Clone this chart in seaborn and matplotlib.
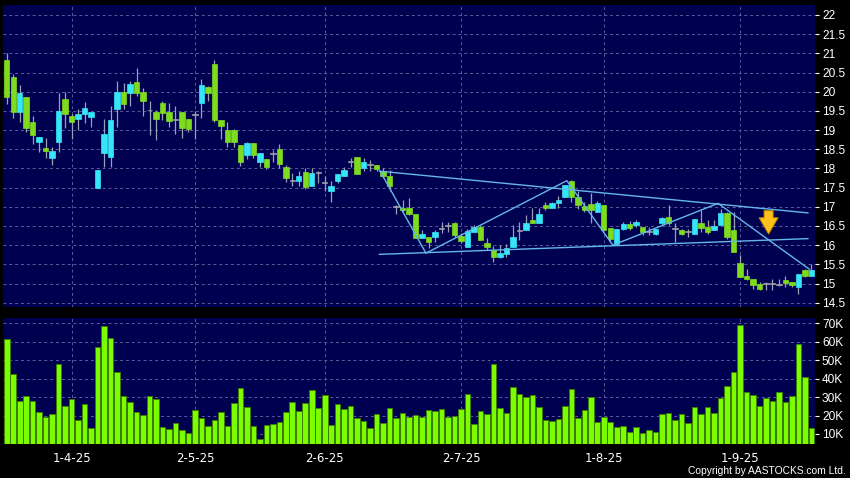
import numpy as np
import pandas as pd
import matplotlib.pyplot as plt
import seaborn as sns

# daily candles (HKD)
opens = [20.82, 20.39, 19.47, 19.87, 19.20, 18.68, 18.53, 18.26, 18.68, 19.82,
         19.36, 19.29, 19.43, 19.34, 17.50, 18.39, 18.29, 19.55, 20.00, 19.97,
         20.26, 20.00, 19.51, 19.47, 19.71, 19.47, 19.26, 19.47, 19.29, 19.40,
         19.71, 20.11, 20.72, 19.27, 19.01, 19.01, 18.61, 18.34, 18.66, 18.16,
         18.24, 18.38, 18.51, 18.04, 17.68, 17.66, 17.90, 17.53, 17.89, 17.63,
         17.42, 17.66, 17.79, 18.17, 18.29, 18.00, 18.09, 18.09, 17.93, 17.79,
         16.99, 16.98, 16.96, 16.81, 16.18, 16.20, 16.22, 16.41, 16.50, 16.57,
         16.25, 15.96, 16.33, 16.48, 16.05, 15.87, 15.70, 15.76, 15.94, 16.38,
         16.40, 16.66, 16.59, 17.05, 16.96, 17.09, 17.26, 17.68, 17.26, 17.02,
         17.06, 16.87, 17.04, 16.46, 16.04, 16.43, 16.54, 16.52, 16.48, 16.35,
         16.30, 16.57, 16.74, 16.43, 16.39, 16.35, 16.30, 16.57, 16.48, 16.39,
         16.52, 16.83, 16.39, 15.54, 15.19, 15.13, 15.00, 14.98, 15.00, 14.97,
         15.10, 15.04, 14.90, 15.35, 15.19]
highs = [21.00, 20.45, 20.17, 19.87, 19.37, 18.83, 18.79, 18.55, 19.96, 19.99,
         19.43, 19.54, 19.73, 19.48, 17.96, 19.29, 19.64, 20.27, 20.22, 20.27,
         20.61, 20.10, 19.75, 19.53, 19.77, 19.71, 19.64, 19.47, 19.29, 19.50,
         20.32, 20.15, 20.82, 19.27, 19.22, 19.03, 18.61, 18.70, 18.66, 18.39,
         18.24, 18.48, 18.63, 18.09, 17.87, 17.92, 18.00, 18.00, 17.94, 17.79,
         17.66, 17.85, 18.05, 18.27, 18.30, 18.27, 18.22, 18.09, 18.00, 17.96,
         17.05, 17.18, 17.22, 16.81, 16.40, 16.20, 16.40, 16.61, 16.61, 16.61,
         16.31, 16.41, 16.53, 16.53, 16.18, 15.98, 16.00, 16.03, 16.53, 16.61,
         16.79, 16.96, 16.96, 17.13, 17.13, 17.27, 17.57, 17.70, 17.42, 17.13,
         17.35, 17.16, 17.04, 16.46, 16.43, 16.61, 16.63, 16.65, 16.48, 16.48,
         16.43, 16.74, 17.04, 16.57, 16.43, 16.43, 16.67, 16.91, 16.65, 16.65,
         16.94, 16.87, 16.87, 15.74, 15.39, 15.13, 15.04, 15.04, 15.13, 15.13,
         15.19, 15.04, 15.26, 15.39, 15.50]
lows = [19.67, 19.31, 19.20, 18.94, 18.64, 18.44, 18.26, 18.09, 18.44, 19.05,
        18.77, 18.99, 19.18, 19.08, 17.50, 18.04, 18.04, 19.08, 19.54, 19.62,
        19.89, 19.36, 18.88, 18.73, 19.25, 19.08, 18.91, 18.80, 18.94, 18.77,
        19.31, 19.75, 19.20, 18.78, 18.57, 18.57, 18.06, 18.24, 18.26, 18.04,
        17.99, 18.18, 18.00, 17.65, 17.53, 17.53, 17.46, 17.53, 17.63, 17.42,
        17.13, 17.63, 17.79, 18.05, 17.85, 17.94, 17.92, 17.94, 17.76, 17.40,
        16.81, 16.87, 16.79, 16.18, 16.18, 15.92, 16.09, 16.31, 16.35, 16.22,
        16.05, 15.96, 16.33, 16.13, 15.87, 15.57, 15.66, 15.70, 15.94, 16.13,
        16.40, 16.57, 16.59, 16.92, 16.96, 16.96, 17.26, 17.13, 16.93, 16.87,
        16.57, 16.87, 16.39, 16.11, 16.03, 16.39, 16.39, 16.48, 16.26, 16.26,
        16.26, 16.52, 16.52, 16.09, 16.26, 16.22, 16.30, 16.35, 16.30, 16.39,
        16.52, 16.17, 15.83, 15.17, 15.10, 14.87, 14.84, 14.83, 14.84, 14.93,
        14.91, 14.91, 14.72, 15.17, 15.19]
closes = [19.87, 19.47, 19.97, 19.05, 18.88, 18.83, 18.45, 18.45, 19.50, 19.43,
          19.21, 19.42, 19.58, 19.48, 17.96, 18.89, 19.25, 20.00, 19.68, 20.21,
          19.97, 19.75, 19.51, 19.29, 19.45, 19.24, 19.26, 19.06, 19.03, 19.40,
          20.17, 19.97, 19.27, 19.10, 18.68, 18.68, 18.18, 18.66, 18.34, 18.39,
          18.04, 18.38, 18.11, 17.74, 17.68, 17.80, 17.51, 17.87, 17.89, 17.63,
          17.53, 17.85, 17.96, 18.17, 17.85, 18.16, 18.09, 17.98, 17.80, 17.53,
          16.99, 16.92, 16.81, 16.18, 16.29, 16.07, 16.33, 16.41, 16.50, 16.27,
          16.11, 16.38, 16.48, 16.13, 15.96, 15.70, 15.79, 15.92, 16.22, 16.38,
          16.57, 16.57, 16.80, 16.96, 17.09, 17.18, 17.57, 17.26, 17.04, 16.91,
          16.91, 17.11, 16.39, 16.15, 16.43, 16.54, 16.46, 16.61, 16.33, 16.35,
          16.43, 16.70, 16.59, 16.43, 16.29, 16.35, 16.67, 16.46, 16.33, 16.50,
          16.85, 16.20, 15.83, 15.17, 15.13, 14.96, 14.87, 14.98, 15.00, 14.97,
          15.02, 14.96, 15.26, 15.19, 15.35]
# volume in thousands of shares
volumes_k = [61.5, 42.3, 27.7, 30.4, 27.9, 22.1, 19.4, 20.6, 47.9, 25.2,
             29.1, 17.7, 26.2, 13.4, 57.0, 68.6, 61.9, 43.6, 30.8, 27.3,
             21.7, 20.5, 30.8, 29.1, 13.6, 12.5, 15.9, 12.1, 10.3, 23.2,
             18.5, 14.3, 17.7, 21.9, 14.5, 26.6, 34.7, 24.4, 14.3, 7.5,
             14.8, 15.4, 16.7, 21.8, 27.3, 22.4, 26.6, 33.8, 24.2, 30.9,
             15.0, 26.2, 23.5, 25.0, 18.8, 17.2, 13.2, 20.8, 16.1, 24.2,
             18.8, 21.4, 19.2, 20.5, 19.2, 23.0, 22.4, 23.7, 19.0, 19.5,
             23.7, 31.8, 15.6, 22.4, 21.0, 47.8, 24.1, 21.2, 35.5, 31.7,
             30.2, 30.9, 24.8, 17.4, 17.0, 17.9, 25.2, 34.6, 18.8, 23.0,
             30.2, 16.3, 19.2, 16.3, 13.9, 14.3, 11.2, 13.6, 10.3, 12.3,
             11.2, 20.6, 21.2, 17.7, 20.8, 16.1, 24.4, 21.0, 24.6, 21.5,
             29.5, 36.2, 43.4, 69.1, 32.7, 31.3, 25.2, 29.3, 28.0, 32.6,
             27.5, 30.6, 58.8, 41.1, 13.2]

month_ticks = [10, 29, 49, 70, 92, 113]
month_labels = ['1-4-25', '2-5-25', '2-6-25', '2-7-25', '1-8-25', '1-9-25']
price_ticks = [14.5, 15, 15.5, 16, 16.5, 17, 17.5, 18, 18.5, 19, 19.5, 20, 20.5, 21, 21.5, 22]
vol_ticks = [10, 20, 30, 40, 50, 60, 70]

# hand-drawn trend lines (bar index, price)
channel_top_x, channel_top_y = [57.4, 123.5], [17.93, 16.84]
channel_bot_x, channel_bot_y = [57.4, 123.5], [15.76, 16.17]
zigzag_x = [57.5, 64.6, 86.3, 93.4, 109.6, 123.7]
zigzag_y = [17.94, 15.79, 17.68, 16.00, 17.09, 15.37]
arrow_x, arrow_from, arrow_to = 117.4, 16.90, 16.29

NAVY = '#000050'
GRID = '#5c5c98'
UP = '#36e6f6'
DOWN = '#7edc1e'
FLAT = '#a0a0a8'
WICK = '#9aa0b4'
LINE = '#64b8e8'

sns.set_style('dark', {'axes.facecolor': NAVY, 'figure.facecolor': 'black'})
plt.rcParams['font.family'] = ['Liberation Sans', 'DejaVu Sans']

df = pd.DataFrame({'open': opens, 'high': highs, 'low': lows,
                   'close': closes, 'volume': volumes_k})
df['bar'] = np.arange(len(df))
df['color'] = np.where(df['close'] > df['open'], UP,
                       np.where(df['close'] < df['open'], DOWN, FLAT))

fig = plt.figure(figsize=(8.5, 4.78), dpi=100)
W, H = 850, 478
ax_p = fig.add_axes([3.3 / W, 1 - 307.3 / H, 811.7 / W, 302.3 / H])
ax_v = fig.add_axes([3.3 / W, 1 - 444 / H, 811.7 / W, 126.5 / H])

# price panel
ax_p.vlines(df['bar'], df['low'], df['high'], color=WICK, lw=0.9, zorder=2)
body_lo = np.minimum(df['open'], df['close'])
body_h = np.maximum((df['close'] - df['open']).abs(), 0.025)
ax_p.bar(df['bar'], body_h, bottom=body_lo, width=0.84, color=df['color'],
         edgecolor=df['color'], linewidth=0.5, zorder=3)

ax_p.plot(channel_top_x, channel_top_y, color=LINE, lw=1.0, zorder=4)
ax_p.plot(channel_bot_x, channel_bot_y, color=LINE, lw=1.0, zorder=4)
ax_p.plot(zigzag_x, zigzag_y, color=LINE, lw=1.0, zorder=4)
ax_p.annotate('', xy=(arrow_x, arrow_to), xytext=(arrow_x, arrow_from),
              arrowprops=dict(arrowstyle='simple,head_length=0.9,head_width=1.05,tail_width=0.5',
                              mutation_scale=13, shrinkA=0, shrinkB=0,
                              fc='#ffc21a', ec='#c88400', lw=0.7), zorder=5)

ax_p.set_xlim(-0.53, 124.55)
ax_p.set_ylim(14.38, 22.26)
ax_p.set_yticks(price_ticks, [f'{t:g}' for t in price_ticks])
ax_p.set_xticks(month_ticks, [''] * len(month_ticks))

# volume panel
sns.barplot(data=df, x='bar', y='volume', color='#7cfc00', saturation=1,
            width=0.86, edgecolor='#3a7d00', linewidth=0.7, ax=ax_v, zorder=3)
ax_v.set_xlim(-0.53, 124.55)
ax_v.set_ylim(4.58, 73.1)
ax_v.set_yticks(vol_ticks, [f'{t}K' for t in vol_ticks])
ax_v.set_xticks(month_ticks, month_labels)
ax_v.set_xlabel('')
ax_v.set_ylabel('')

for ax in (ax_p, ax_v):
    ax.set_facecolor(NAVY)
    for s in ax.spines.values():
        s.set_visible(False)
    ax.yaxis.tick_right()
    ax.grid(True, color=GRID, linestyle=(0, (3, 3)), lw=0.7, zorder=0)
    ax.set_axisbelow(True)
    ax.tick_params(axis='y', colors='white', length=3, width=0.8, pad=2, labelsize=8.6)
ax_p.tick_params(axis='x', length=0)
ax_v.tick_params(axis='x', colors='#b0b0b0', labelcolor='white', length=4,
                 width=0.8, pad=1.5)
for lbl in ax_v.get_xticklabels():
    lbl.set_family(['DejaVu Sans'])
    lbl.set_fontsize(8.5)

fig.text(846 / W, 1 - 471.5 / H, 'Copyright by AASTOCKS.com Ltd.', color='white',
         fontsize=7.4, ha='right', va='center')

fig.savefig('out.png', dpi=100, facecolor='black')
